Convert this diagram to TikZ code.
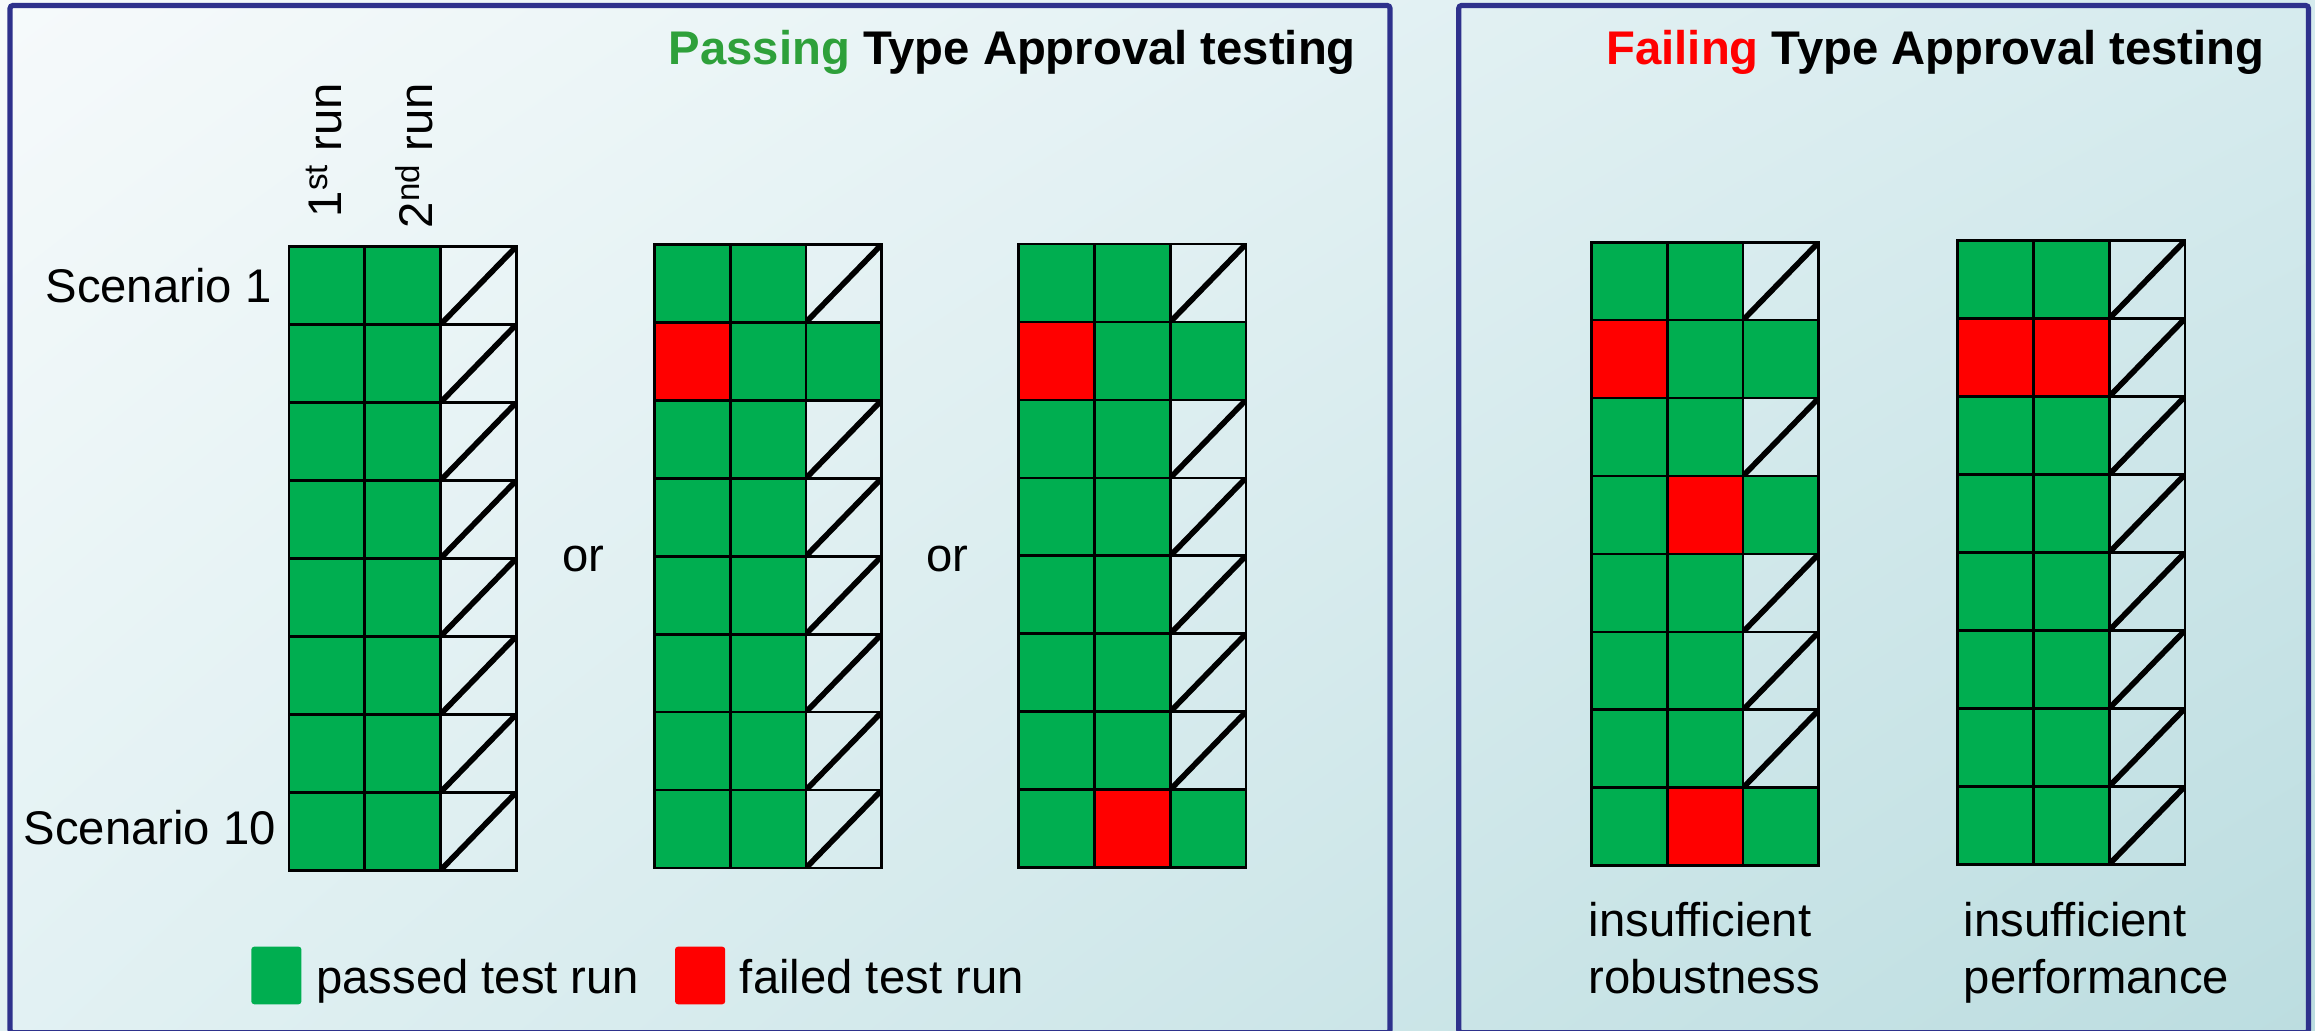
\documentclass[tikz,border=0pt]{standalone}
\usepackage{fontspec}
\usetikzlibrary{shadings}
\setmainfont{Liberation Sans}
\definecolor{passgreen}{RGB}{0,174,80}
\definecolor{failred}{RGB}{255,0,0}
\definecolor{titlegreen}{RGB}{46,160,58}
\definecolor{panelblue}{RGB}{46,49,140}
\definecolor{bgA}{RGB}{246,250,251}
\definecolor{bgB}{RGB}{214,235,238}
\definecolor{bgC}{RGB}{226,241,243}
\definecolor{bgD}{RGB}{188,221,224}
\newcommand{\runsgrid}[3]{%
  \foreach \a/\b/\c [count=\i from 0] in {#3} {
    \path[cell,cell\a] ({#1},{#2+\i*52.8}) rectangle ++(51.3,52.8);
    \path[cell,cell\b] ({#1+51.3},{#2+\i*52.8}) rectangle ++(51.3,52.8);
    \path[cell,cell\c] ({#1+102.6},{#2+\i*52.8}) rectangle ++(51.3,52.8);
  }}
\begin{document}
\begin{tikzpicture}[x=1pt,y=-1pt,
  lbl/.style={font=\fontsize{32}{38}\selectfont, inner sep=0pt, text=black},
  ttl/.style={font=\fontsize{32}{38}\selectfont\bfseries, inner sep=0pt, text=black},
  cell/.style={draw=black, line width=1.9pt},
  cellG/.style={fill=passgreen},
  cellR/.style={fill=failred},
  cellD/.style={path picture={\draw[black, line width=3.8pt] (path picture bounding box.south west) -- (path picture bounding box.north east);}},
  panel/.style={draw=panelblue, line width=3.5pt, rounded corners=2pt},
  legbox/.style={minimum width=34pt, minimum height=39pt, inner sep=0pt, rounded corners=2pt}]
\useasboundingbox (0,0) rectangle (1568,698);
\clip (0,0) rectangle (1568,698);
\shade[upper left=bgA, upper right=bgB, lower left=bgC, lower right=bgD] (0,0) rectangle (1568,698);
% panels
\draw[panel] (6.8,3.7) rectangle (941.5,699.5);
\draw[panel] (988,3.7) rectangle (1563.6,699.5);
% titles
\node[ttl, anchor=base east] (titleL) at (918.5,44) {\textcolor{titlegreen}{Passing} Type Approval testing};
\node[ttl, anchor=base east] (titleR) at (1534,43.4) {\textcolor{failred}{Failing} Type Approval testing};
% column labels
\node[lbl, rotate=90, anchor=base east] (run1) at (231,56) {1\textsuperscript{st} run};
\node[lbl, rotate=90, anchor=base east] (run2) at (293,56) {2\textsuperscript{nd} run};
% row labels
\node[lbl, anchor=base east] (sc1) at (184,205) {Scenario 1};
\node[lbl, anchor=base east] (sc10) at (187,572) {Scenario 10};
% grids
\runsgrid{195.8}{167}{G/G/D,G/G/D,G/G/D,G/G/D,G/G/D,G/G/D,G/G/D,G/G/D}
\runsgrid{443.3}{165.5}{G/G/D,R/G/G,G/G/D,G/G/D,G/G/D,G/G/D,G/G/D,G/G/D}
\runsgrid{690}{165.3}{G/G/D,R/G/G,G/G/D,G/G/D,G/G/D,G/G/D,G/G/D,G/R/G}
\runsgrid{1078}{164}{G/G/D,R/G/G,G/G/D,G/R/G,G/G/D,G/G/D,G/G/D,G/R/G}
\runsgrid{1326}{163}{G/G/D,R/R/D,G/G/D,G/G/D,G/G/D,G/G/D,G/G/D,G/G/D}
% or
\node[lbl, anchor=base] (or1) at (395,387) {or};
\node[lbl, anchor=base] (or2) at (641.7,387) {or};
% legend
\node[legbox, fill=passgreen, anchor=north west] (lgG) at (170,641) {};
\node[lbl, anchor=base west] (lgGt) at (214,672.6) {passed test run};
\node[legbox, fill=failred, anchor=north west] (lgR) at (457,641) {};
\node[lbl, anchor=base west] (lgRt) at (501,672.6) {failed test run};
% right labels
\node[lbl, anchor=base west] (ins1) at (1076,634) {insufficient};
\node[lbl, anchor=base west] (rob) at (1076,672.6) {robustness};
\node[lbl, anchor=base west] (ins2) at (1330,634) {insufficient};
\node[lbl, anchor=base west] (perf) at (1330,672.6) {performance};
\end{tikzpicture}
\end{document}
